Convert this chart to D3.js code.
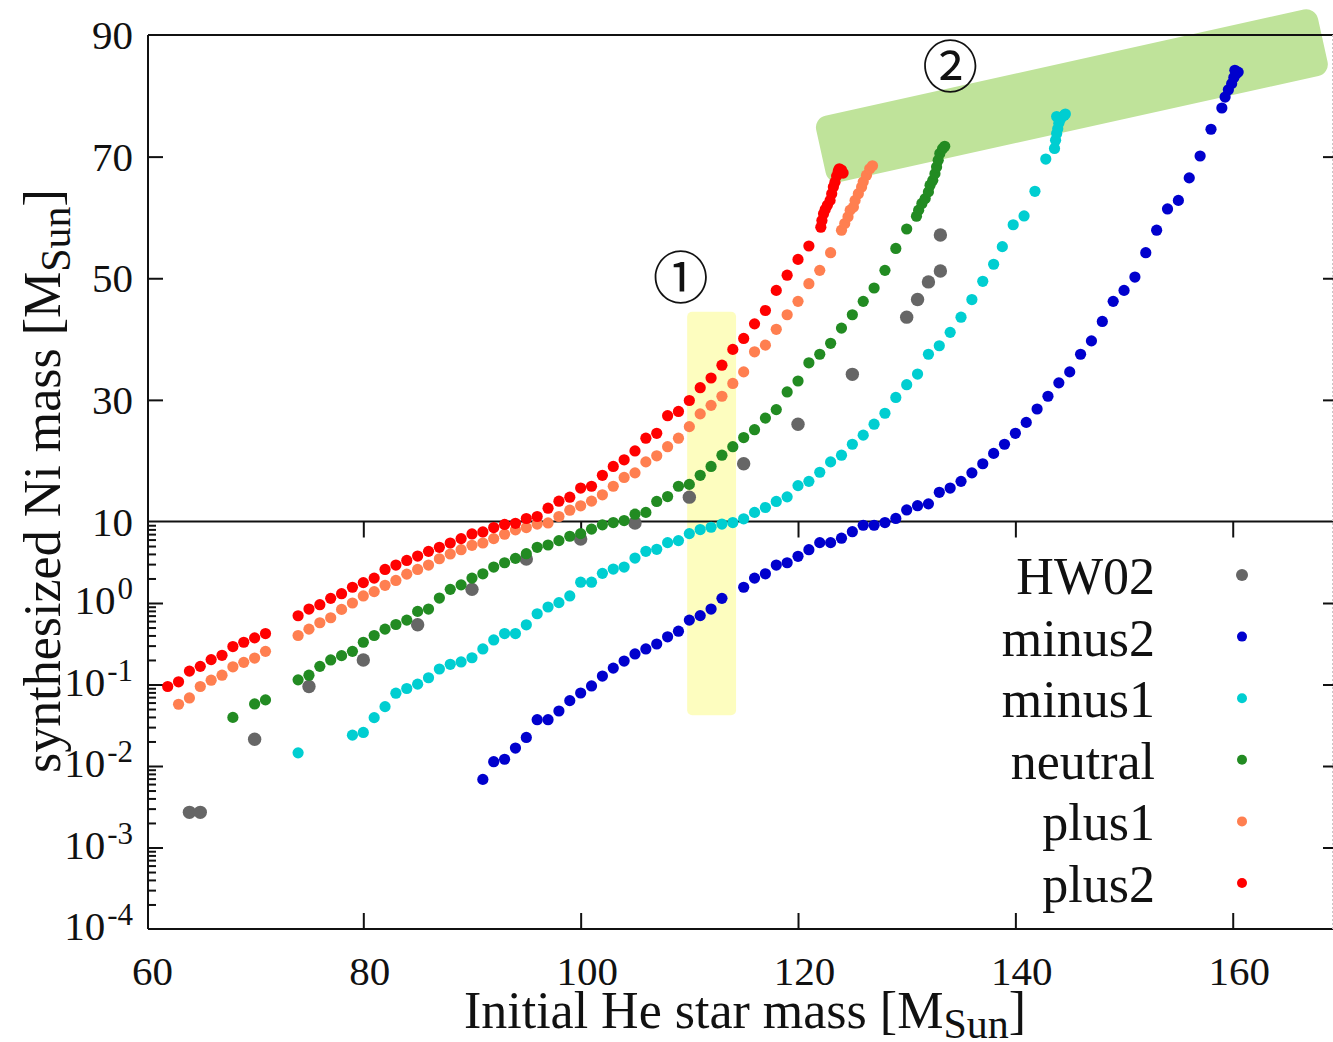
<!DOCTYPE html>
<html><head><meta charset="utf-8">
<script src="https://cdn.jsdelivr.net/npm/d3@7"></script>
<style>
body{margin:0;background:#fff}
svg{display:block}
text{font-family:"Liberation Serif","Times New Roman",serif;fill:#111}
</style>
</head><body><svg id="c" width="1333" height="1042"></svg>
<script>
// ---------------- data ----------------
const seriesNames  = ["HW02","minus2","minus1","neutral","plus1","plus2"];
const seriesColors = ["#666666","#0000cd","#00ced1","#228b22","#ff7f50","#ff0000"];

const hw02M = [64,65,70,75,80,85,90,95,100,105,110,115,120,125,130,131,132,133.1,133.1];
const hw02V = [0.0027,0.0027,0.0213,0.0945,0.20,0.54,1.47,3.47,6.1,9.6,14.0,19.5,26.0,34.2,43.6,46.5,49.4,51.2,57.1];

const minus2M = [91,92,93,94,95,96,97,98,99,100,101,102,103,104,105,106,107,108,109,110,111,112,113,115,116,117,118,119,120,121,122,123,124,125,126,127,128,129,130,131,132,133,134,135,136,137,138,139,140,141,142,143,144,145,146,147,148,149,150,151,152,153,154,155,156,157,158,159,159.3,159.6,159.9,160.1,160.3,160.5,160.2];
const minus2V = [0.00685,0.0113,0.0121,0.0166,0.0224,0.037,0.037,0.0473,0.0634,0.0787,0.096,0.127,0.159,0.194,0.237,0.273,0.314,0.385,0.451,0.617,0.70,0.843,1.14,1.56,2.02,2.28,2.92,3.12,3.74,4.51,5.5,5.5,6.24,7.5,9.0,9.0,9.7,10.5,11.9,12.6,12.9,14.8,15.5,16.6,18.0,19.5,21.2,22.7,24.5,26.3,28.5,30.6,32.8,34.6,37.5,39.7,42.9,46.2,48.0,50.2,54.2,57.9,61.4,62.8,66.5,70.1,74.5,78.0,79.8,81.0,82.0,83.0,83.6,83.9,84.2];

const minus1M = [74,79,80,81,82,83,84,85,86,87,88,89,90,91,92,93,94,95,96,97,98,99,100,101,102,103,104,105,106,107,108,109,110,111,112,113,114,115,116,117,118,119,120,121,122,123,124,125,126,127,128,129,130,131,132,133,134,135,136,137,138,138.8,139.8,140.8,141.8,142.8,143.6,143.7,143.8,143.9,144.0,144.2,144.5,143.8,144.6];
const minus1V = [0.0145,0.0239,0.0258,0.0392,0.0535,0.0782,0.0893,0.101,0.121,0.155,0.177,0.189,0.213,0.273,0.352,0.422,0.422,0.540,0.738,0.893,1.01,1.22,1.80,1.80,2.31,2.61,2.76,3.56,4.31,4.56,5.5,5.83,7.1,7.97,8.5,9.3,9.7,10.44,11.5,12.3,13.3,14.05,15.9,16.6,18.1,19.8,20.9,22.7,24.2,26.0,27.8,30.4,32.5,34.25,37.5,38.9,41.1,43.6,46.5,49.5,52.3,55.2,58.8,60.25,64.3,69.6,71.35,72.7,73.8,74.6,75.5,76.3,76.8,76.6,77.0];

const neutralM = [68,70,71,74,75,76,77,78,79,80,81,82,83,84,85,86,87,88,89,90,91,92,93,94,95,96,97,98,99,100,101,102,103,104,105,106,107,108,109,110,111,112,113,114,115,116,117,118,119,120,121,122,123,124,125,126,127,128,129,130,130.9,131.1,131.4,131.7,132.0,132.15,132.4,132.6,132.75,132.9,133.05,133.3,133.5];
const neutralV = [0.0395,0.0577,0.0647,0.114,0.130,0.167,0.200,0.226,0.255,0.330,0.399,0.478,0.545,0.617,0.789,0.843,1.15,1.47,1.67,2.02,2.28,2.76,3.12,3.53,4.03,4.82,5.15,5.82,6.59,7.1,8.06,9.1,9.7,10.16,11.2,11.5,13.3,14.1,15.8,16.1,17.6,19.05,20.9,22.3,23.8,25.1,27.0,28.4,31.3,33.1,36.1,37.5,39.3,41.8,44.0,46.2,48.4,51.3,54.9,58.1,60.2,61.2,62.3,63.1,64.2,65.3,66.1,67.2,68.3,69.4,70.5,71.3,71.7];

const plus1M = [63,64,65,66,67,68,69,70,71,74,75,76,77,78,79,80,81,82,83,84,85,86,87,88,89,90,91,92,93,94,95,96,97,98,99,100,101,102,103,104,105,106,107,108,109,110,111,112,113,114,115,116,117,118,119,120,121,122,123,124.0,124.3,124.6,124.8,125.1,125.25,125.55,125.85,126.0,126.3,126.6,126.85];
const plus1V = [0.0572,0.0684,0.0945,0.113,0.130,0.165,0.187,0.211,0.255,0.399,0.478,0.572,0.659,0.835,1.0,1.22,1.38,1.65,1.89,2.26,2.58,2.92,3.49,3.99,4.51,5.10,5.45,6.17,6.98,7.89,8.43,9.3,9.6,10.82,11.86,12.58,13.35,14.39,15.8,17.24,18.0,19.8,20.8,22.3,23.7,25.6,27.7,29.1,30.6,32.7,34.6,37.9,39.0,41.6,44.0,46.2,49.1,51.3,54.2,57.9,59.0,60.1,61.2,61.7,62.8,63.9,65.0,65.85,66.95,68.0,68.5];

const plus2M = [62,63,64,65,66,67,68,69,70,71,74,75,76,77,78,79,80,81,82,83,84,85,86,87,88,89,90,91,92,93,94,95,96,97,98,99,100,101,102,103,104,105,106,107,108,109,110,111,112,113,114,115,116,117,118,119,120,121,122.1,122.2,122.35,122.5,122.7,122.95,123.1,123.25,123.4,123.55,123.7,123.8,124.0,124.15];
const plus2V = [0.0945,0.108,0.146,0.167,0.202,0.228,0.292,0.330,0.373,0.422,0.698,0.843,0.953,1.14,1.30,1.56,1.78,2.02,2.58,2.92,3.33,3.77,4.30,4.82,5.45,6.17,7.04,7.45,8.43,9.2,9.5,10.49,10.82,12.19,13.34,14.0,15.5,15.8,17.6,19.05,20.15,21.6,23.7,24.5,27.4,28.1,29.9,32.0,33.6,35.7,38.3,40.1,42.5,44.7,48.0,50.5,53.1,55.3,58.4,59.5,60.6,61.3,62.0,62.8,63.9,65.0,65.8,66.8,67.6,68.0,67.8,67.3];

const xTicks = [60,80,100,120,140,160];
const yLinTicks = [90,70,50,30,10];
const yLogTicks = [1,0.1,0.01,0.001,0.0001];
const yLogExp = ["0","-1","-2","-3","-4"];

// annotations in data units
const box1 = {m0:109.8, m1:114.3, vTop:44.5, vBot:0.042, label:"①", lm:109.2, lv:50.7};
const box2 = {cm:145.2, cv:80.0, label:"②", lm:134.0, lv:85.4};

// ---------------- scales ----------------
const svg = d3.select("#c");
const X0 = 148, X1 = 1333, YT = 35, YB = 929, YM = 521.5;
const x = d3.scaleLinear().domain([60,170]).range([145.95,1341.4]);
const yLin = d3.scaleLinear().domain([10,90]).range([YM,YT]);
const yLog = d3.scaleLog().domain([1e-4,10]).range([YB,YM]);
const y = v => v >= 10 ? yLin(v) : yLog(v);

// ---------------- annotations (background) ----------------
svg.append("rect")
  .attr("x", x(box1.m0)).attr("y", y(box1.vTop))
  .attr("width", x(box1.m1)-x(box1.m0)).attr("height", y(box1.vBot)-y(box1.vTop))
  .attr("rx",5).attr("fill","#fdfdbf");
svg.append("rect")
  .attr("x",-257).attr("y",-34).attr("width",514).attr("height",68).attr("rx",12)
  .attr("fill","#bfe39a")
  .attr("transform",`translate(${x(box2.cm)},${y(box2.cv)}) rotate(-12.5)`);

// ---------------- frame & axes ----------------
const ax = svg.append("g").attr("stroke","#111").attr("stroke-width",2);
ax.append("line").attr("x1",X0).attr("x2",X0).attr("y1",YT).attr("y2",YB);
ax.append("line").attr("x1",X0).attr("x2",X1).attr("y1",YT).attr("y2",YT);
ax.append("line").attr("x1",X0).attr("x2",X1).attr("y1",YB).attr("y2",YB);
ax.append("line").attr("x1",X0).attr("x2",X1).attr("y1",YM).attr("y2",YM);
svg.append("line").attr("x1",1332.5).attr("x2",1332.5).attr("y1",YT).attr("y2",YB)
  .attr("stroke","#c8c8c8").attr("stroke-width",1).attr("stroke-dasharray","2,2");

function styleAxis(g){
  g.select(".domain").remove();
  g.selectAll(".tick line").attr("stroke","#111").attr("stroke-width",2);
  g.selectAll(".tick text").remove();
}
const xt = xTicks.filter(t=>t>60);
svg.append("g").attr("transform",`translate(0,${YB})`)
  .call(d3.axisTop(x).tickValues(xt).tickSize(16).tickFormat("")).call(styleAxis);
svg.append("g").attr("transform",`translate(0,${YM})`)
  .call(d3.axisBottom(x).tickValues(xt).tickSize(16).tickFormat("")).call(styleAxis);

const linInner = yLinTicks.filter(t=>t>10 && t<90);
svg.append("g").attr("transform",`translate(${X0},0)`)
  .call(d3.axisRight(yLin).tickValues(linInner).tickSize(15).tickFormat("")).call(styleAxis);
svg.append("g").attr("transform",`translate(${X1},0)`)
  .call(d3.axisLeft(yLin).tickValues(linInner).tickSize(10).tickFormat("")).call(styleAxis);

const logMajor = yLogTicks.filter(t=>t>1e-4);
const logMinor = [];
for (let e=-4;e<=0;e++) for (let k=2;k<=9;k++) logMinor.push(k*Math.pow(10,e));
svg.append("g").attr("transform",`translate(${X0},0)`)
  .call(d3.axisRight(yLog).tickValues(logMajor).tickSize(15).tickFormat("")).call(styleAxis);
svg.append("g").attr("transform",`translate(${X0},0)`)
  .call(d3.axisRight(yLog).tickValues(logMinor).tickSize(8).tickFormat("")).call(styleAxis);
svg.append("g").attr("transform",`translate(${X1},0)`)
  .call(d3.axisLeft(yLog).tickValues(logMajor).tickSize(10).tickFormat("")).call(styleAxis);

// tick labels
const lab = svg.append("g");
xTicks.forEach(t=>{
  lab.append("text").attr("x",x(t)+6.5).attr("y",985).attr("text-anchor","middle")
    .attr("font-size",41).text(t);
});
yLinTicks.forEach(t=>{
  lab.append("text").attr("x",133).attr("y",yLin(t)+14).attr("text-anchor","end")
    .attr("font-size",41).text(t);
});
yLogTicks.forEach((t,i)=>{
  const tx = lab.append("text").attr("x",133).attr("y",yLog(t)+11).attr("text-anchor","end")
    .attr("font-size",41);
  tx.append("tspan").text("10");
  tx.append("tspan").attr("dx",2).attr("dy",-15).attr("font-size",31).text(yLogExp[i]);
});

// axis titles
const xt2 = svg.append("text").attr("x",745).attr("y",1028).attr("text-anchor","middle").attr("font-size",52);
xt2.append("tspan").text("Initial He star mass [M");
xt2.append("tspan").attr("dy",10).attr("font-size",42).text("Sun");
xt2.append("tspan").attr("dy",-10).text("]");

const yt2 = svg.append("text").attr("transform","translate(60,481) rotate(-90)")
  .attr("text-anchor","middle").attr("font-size",52);
yt2.append("tspan").text("synthesized Ni mass [M");
yt2.append("tspan").attr("dy",10).attr("font-size",42).text("Sun");
yt2.append("tspan").attr("dy",-10).text("]");

// ---------------- points ----------------
const allM = [hw02M,minus2M,minus1M,neutralM,plus1M,plus2M];
const allV = [hw02V,minus2V,minus1V,neutralV,plus1V,plus2V];
seriesNames.forEach((name,i)=>{
  const pts = allM[i].map((m,j)=>({m, v: allV[i][j]}));
  svg.append("g").selectAll("circle").data(pts).join("circle")
    .attr("cx",d=>x(d.m)).attr("cy",d=>y(d.v))
    .attr("r", i===0 ? 6.7 : 5.6).attr("fill",seriesColors[i]);
});

// ---------------- legend ----------------
const legY0 = 575, legDy = 61.6;
seriesNames.forEach((name,i)=>{
  const yy = legY0 + i*legDy;
  svg.append("text").attr("x",1155).attr("y",yy+19).attr("text-anchor","end")
    .attr("font-size",52).text(name);
  svg.append("circle").attr("cx",1242).attr("cy",yy).attr("r", i===0?6:5).attr("fill",seriesColors[i]);
});

// ---------------- circled labels ----------------
[box1, box2].forEach(b=>{
  svg.append("text").attr("x",x(b.lm)).attr("y",y(b.lv))
    .attr("text-anchor","middle").attr("dominant-baseline","central")
    .style("font-family","'Noto Sans CJK JP','DejaVu Sans',sans-serif")
    .attr("font-size",56).text(b.label);
});
</script></body></html>
